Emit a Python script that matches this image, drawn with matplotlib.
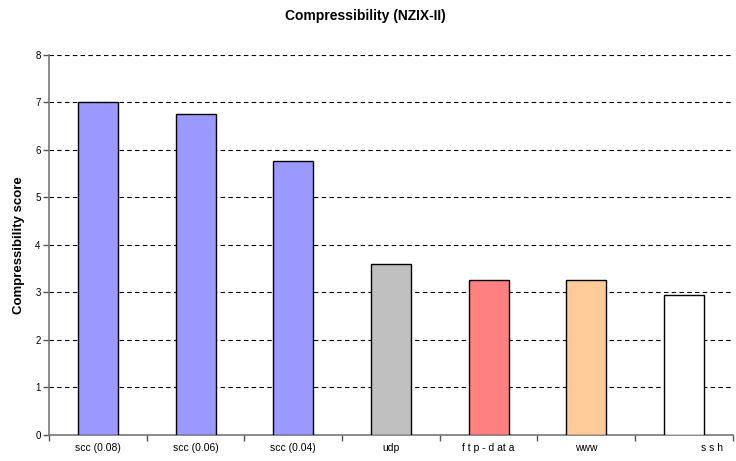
import matplotlib
matplotlib.use('Agg')
import matplotlib.pyplot as plt
import matplotlib.transforms as mtransforms
import numpy as np

plt.rcParams['font.family'] = ['Liberation Sans', 'DejaVu Sans']

# data
categories = ['scc (0.08)', 'scc (0.06)', 'scc (0.04)', 'udp', 'f t p - d at a', 'www', 's s h']
scores = [7.02, 6.76, 5.77, 3.60, 3.27, 3.27, 2.95]
bar_colors = ['#9999FF', '#9999FF', '#9999FF', '#C0C0C0', '#FF8080', '#FFCC99', '#FFFFFF']

fig = plt.figure(figsize=(7.36, 4.61), dpi=100)
ax = fig.add_axes([0.0666, 0.0564, 0.929, 0.8243])

x = np.arange(len(categories))
ax.bar(x, scores, width=0.41, color=bar_colors, edgecolor='black', linewidth=1.0, zorder=3)

ax.set_xlim(-0.5, len(categories) - 0.5)
ax.set_ylim(0, 8)
ax.set_yticks(range(0, 9))
ax.yaxis.grid(True, linestyle=(0, (4, 3)), color='black', linewidth=0.8, zorder=0)

# x ticks sit between categories, labels under each bar
ax.set_xticks(np.arange(-0.5, len(categories) - 0.4, 1.0))
ax.set_xticklabels([])
ax.tick_params(axis='x', direction='out', length=4, width=1, color='#555555')
ax.tick_params(axis='y', direction='out', length=4, width=1, color='#555555', labelsize=7, pad=2)
for i, lab in enumerate(categories):
    off = 28 if lab == 's s h' else 0
    tr = ax.get_xaxis_transform() + mtransforms.ScaledTranslation(off / 100, 0, fig.dpi_scale_trans)
    ax.text(i, -0.022, lab, transform=tr, ha='center', va='top', fontsize=7.5)

for s in ['top', 'right']:
    ax.spines[s].set_visible(False)
for s in ['left', 'bottom']:
    ax.spines[s].set_color('#777777')
    ax.spines[s].set_linewidth(1.2)

ax.set_ylabel('Compressibility score', fontsize=9.5, fontweight='bold', labelpad=7)
fig.text(0.497, 0.965, 'Compressibility (NZIX-II)', ha='center', va='center', fontsize=10, fontweight='bold')

fig.savefig('out.png', dpi=100)
